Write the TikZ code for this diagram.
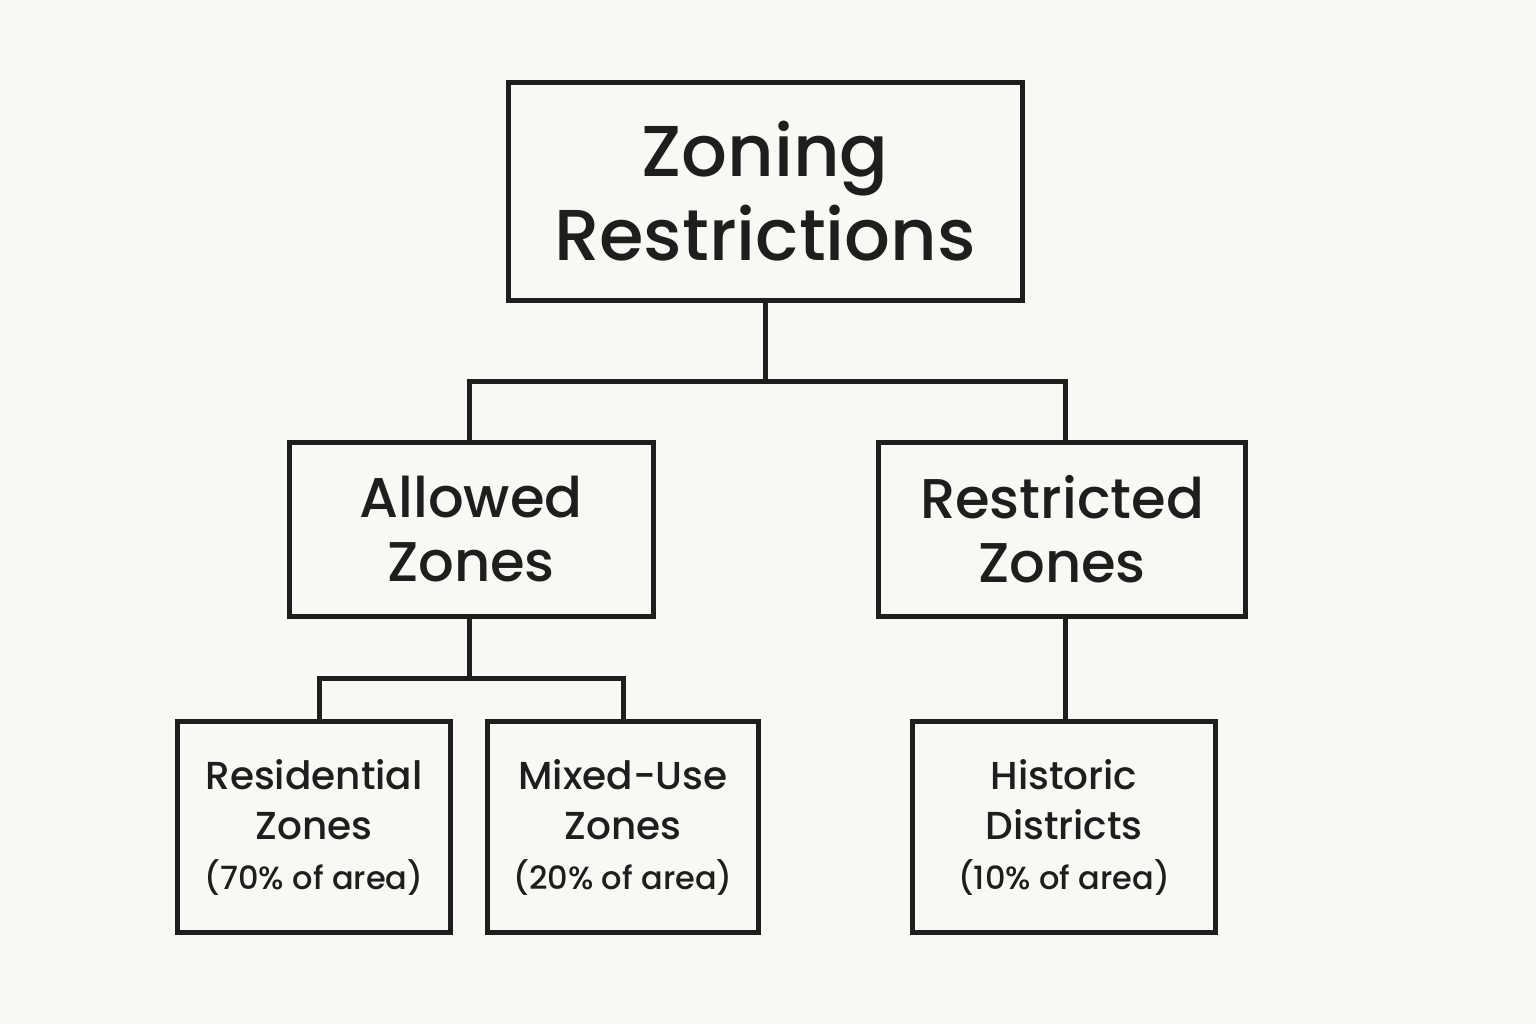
\documentclass[tikz,border=0pt]{standalone}
\usepackage{fontspec}
\setmainfont{Poppins}[BoldFont={Poppins Medium}]
\definecolor{bg}{HTML}{FAF8F4}
\definecolor{ink}{HTML}{1E1E1E}
\begin{document}
\begin{tikzpicture}[x=1pt,y=-1pt,
  box/.style={draw=ink,line width=5pt,align=center,text=ink,inner sep=0pt},
  conn/.style={draw=ink,line width=5pt}]
\fill[bg] (0,0) rectangle (1536,1024);
\useasboundingbox (0,0) rectangle (1536,1024);
\node[box,minimum width=514pt,minimum height=217pt,font=\bfseries\fontsize{72}{84}\selectfont] (top) at (765,191.5) {Zoning\\Restrictions};
\node[box,minimum width=364pt,minimum height=174pt,font=\bfseries\fontsize{56}{64}\selectfont] (allow) at (471,529) {Allowed\\Zones};
\node[box,minimum width=367pt,minimum height=174pt,font=\bfseries\fontsize{56}{64}\selectfont] (restr) at (1062,529) {Restricted\\Zones};
\node[box,minimum width=273pt,minimum height=211pt,font=\bfseries\fontsize{39}{50}\selectfont] (res) at (314,827) {Residential\\Zones\\{\fontsize{32}{52}\selectfont(70\% of area)}};
\node[box,minimum width=271pt,minimum height=211pt,font=\bfseries\fontsize{39}{50}\selectfont] (mix) at (623,827) {Mixed-Use\\Zones\\{\fontsize{32}{52}\selectfont(20\% of area)}};
\node[box,minimum width=303pt,minimum height=211pt,font=\bfseries\fontsize{39}{50}\selectfont] (hist) at (1064,827) {Historic\\Districts\\{\fontsize{32}{52}\selectfont(10\% of area)}};
\coordinate (j1) at (765,381);
\coordinate (j2) at (469,678);
\draw[conn] (top.south) -- (j1);
\draw[conn] (allow.north -| 469,0) -- (469,381) -- (1065,381) -- (restr.north -| 1065,0);
\draw[conn] (allow.south -| j2) -- (j2);
\draw[conn] (res.north -| 319,0) -- (319,678) -- (623,678) -- (mix.north);
\draw[conn] (restr.south -| 1065,0) -- (hist.north -| 1065,0);
\end{tikzpicture}
\end{document}
